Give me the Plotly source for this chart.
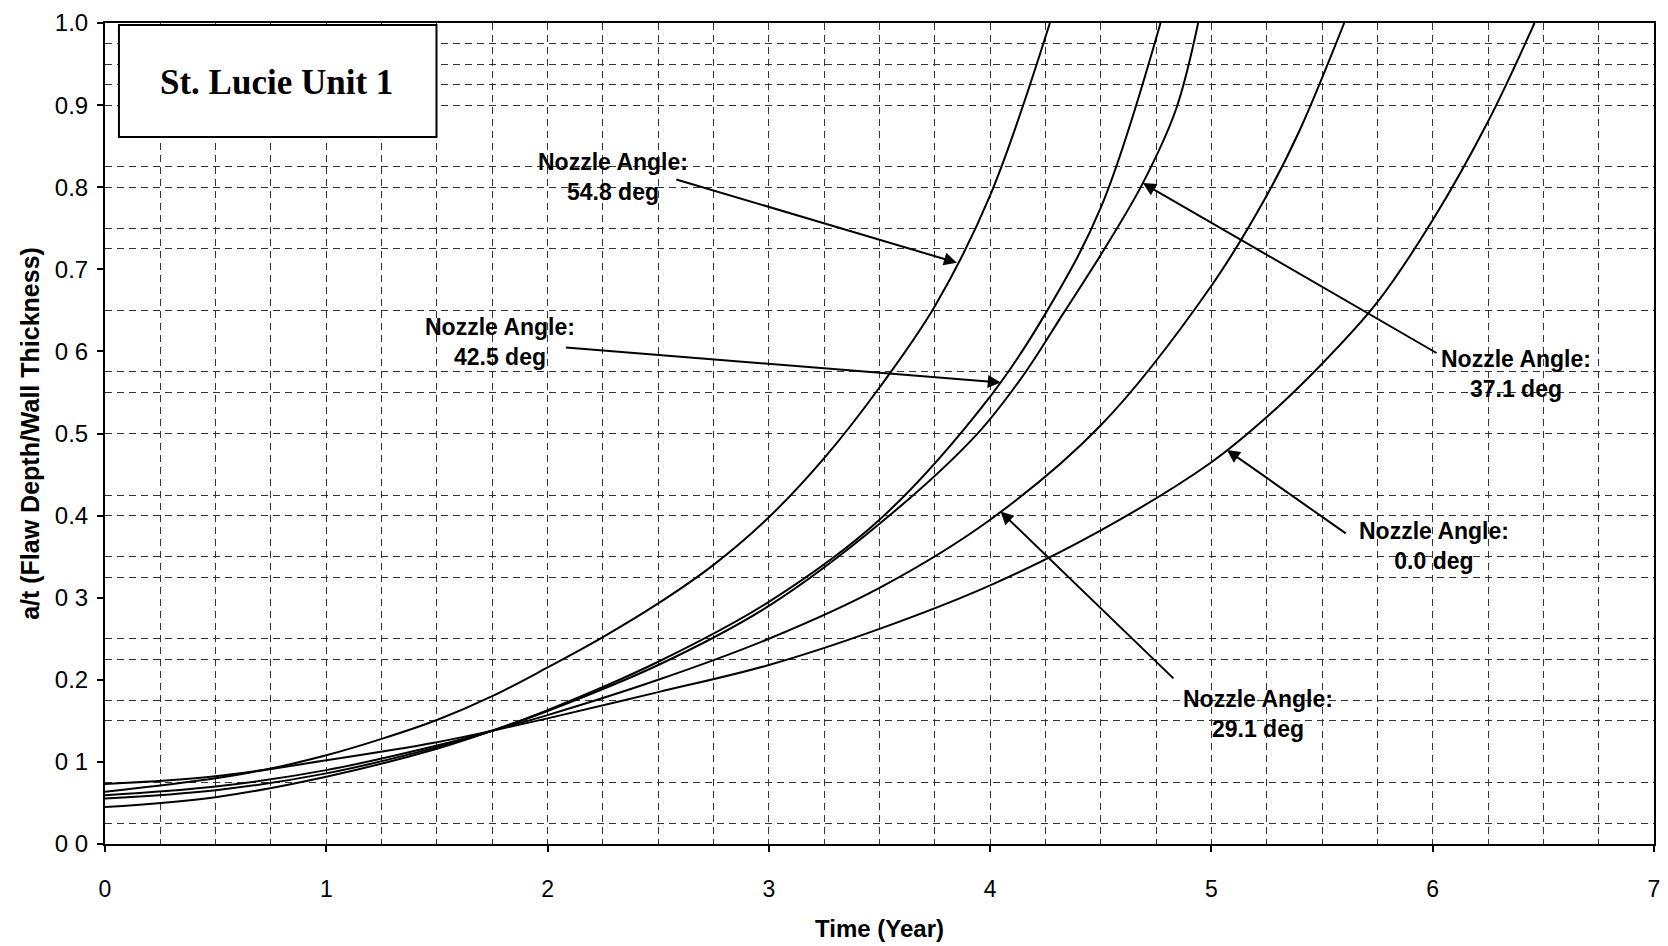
import plotly.graph_objects as go

# ---------------- data ----------------
t_00 = [0.0, 0.5, 1.0, 1.5, 1.75, 2.0, 2.5, 3.0, 3.5, 4.0, 4.5, 5.0, 5.25, 5.5, 5.75, 6.0, 6.25, 6.46]
a_00 = [0.073, 0.0825, 0.102, 0.124, 0.138, 0.153, 0.185, 0.218, 0.262, 0.315, 0.382, 0.465, 0.520, 0.585, 0.660, 0.760, 0.880, 1.0]

t_291 = [0.0, 0.5, 1.0, 1.5, 1.75, 2.0, 2.5, 3.0, 3.5, 4.0, 4.5, 5.0, 5.25, 5.4, 5.6]
a_291 = [0.0595, 0.070, 0.090, 0.120, 0.138, 0.157, 0.200, 0.250, 0.312, 0.395, 0.510, 0.680, 0.790, 0.870, 1.0]

t_371 = [0.0, 0.5, 1.0, 1.5, 1.75, 2.0, 2.5, 3.0, 3.5, 3.94, 4.15, 4.33, 4.51, 4.69, 4.84, 4.94]
a_371 = [0.0555, 0.0655, 0.086, 0.118, 0.138, 0.162, 0.218, 0.290, 0.390, 0.499, 0.571, 0.646, 0.722, 0.805, 0.895, 1.0]

t_425 = [0.0, 0.5, 1.0, 1.5, 1.75, 2.0, 2.5, 3.0, 3.5, 4.0, 4.25, 4.5, 4.77]
a_425 = [0.045, 0.057, 0.082, 0.116, 0.138, 0.163, 0.222, 0.295, 0.395, 0.545, 0.646, 0.775, 1.0]

t_548 = [0.0, 0.5, 0.75, 1.0, 1.25, 1.5, 1.75, 2.0, 2.25, 2.5, 2.75, 3.0, 3.25, 3.5, 3.75, 4.0, 4.27]
a_548 = [0.0635, 0.080, 0.092, 0.108, 0.128, 0.151, 0.180, 0.215, 0.252, 0.293, 0.340, 0.398, 0.470, 0.556, 0.655, 0.790, 1.0]

series = [
    ("0.0 deg", t_00, a_00),
    ("29.1 deg", t_291, a_291),
    ("37.1 deg", t_371, a_371),
    ("42.5 deg", t_425, a_425),
    ("54.8 deg", t_548, a_548),
]

x_tickvals = [0, 1, 2, 3, 4, 5, 6, 7]
x_ticktext = ["0", "1", "2", "3", "4", "5", "6", "7"]
y_tickvals = [0.0, 0.1, 0.2, 0.3, 0.4, 0.5, 0.6, 0.7, 0.8, 0.9, 1.0]
y_ticktext = ["0 0", "0 1", "0.2", "0 3", "0.4", "0.5", "0 6", "0.7", "0.8", "0.9", "1.0"]

# horizontal dashed grid positions seen on the scan
h_grid = [0.025, 0.075, 0.15, 0.175, 0.225, 0.25, 0.325, 0.35, 0.4, 0.425, 0.5,
          0.55, 0.575, 0.65, 0.725, 0.75, 0.8, 0.825, 0.9, 0.925, 0.95, 0.975]
# vertical dashed grid positions (every quarter year)
v_grid = [0.25, 0.5, 0.75, 1.0, 1.25, 1.5, 1.75, 2.0, 2.25, 2.5, 2.75, 3.0, 3.25,
          3.5, 3.75, 4.0, 4.25, 4.5, 4.75, 5.0, 5.25, 5.5, 5.75, 6.0, 6.25, 6.5, 6.75]

# annotations: (label, text position, arrow tail, arrow head) in data units
labels = [
    ("Nozzle Angle:<br>54.8 deg", (2.296, 0.813), (2.575, 0.810), (3.85, 0.708)),
    ("Nozzle Angle:<br>42.5 deg", (1.783, 0.611), (2.076, 0.605), (4.048, 0.562)),
    ("Nozzle Angle:<br>37.1 deg", (6.375, 0.573), (6.024, 0.597), (4.69, 0.805)),
    ("Nozzle Angle:<br>0.0 deg", (6.006, 0.363), (5.614, 0.377), (5.07, 0.480)),
    ("Nozzle Angle:<br>29.1 deg", (5.21, 0.158), (4.835, 0.200), (4.047, 0.405)),
]

title_text = "St. Lucie Unit 1"

# ---------------- figure ----------------
FONT = "Liberation Sans, Arial, Helvetica, sans-serif"
SERIF = "Liberation Serif, Times New Roman, serif"
GRID = "#333333"
DASH = "7px,5px"

fig = go.Figure()
for name, tx, ay in series:
    fig.add_trace(go.Scatter(
        x=tx, y=ay, mode="lines", name=name,
        line=dict(color="black", width=2, shape="spline", smoothing=1.0),
        showlegend=False, hoverinfo="skip",
    ))

for text, (tx, ty), (ax, ay), (hx, hy) in labels:
    fig.add_annotation(x=tx, y=ty, xref="x", yref="y", text="<b>" + text + "</b>",
                       showarrow=False, align="center", xanchor="center", yanchor="middle",
                       font=dict(family=FONT, size=23, color="black"))
    fig.add_annotation(x=hx, y=hy, xref="x", yref="y", ax=ax, ay=ay,
                       axref="x", ayref="y", text="", showarrow=True,
                       arrowhead=2, arrowsize=1.3, arrowwidth=2, arrowcolor="black",
                       standoff=0, startstandoff=0)

# framed title box
fig.add_shape(type="rect", xref="paper", yref="paper", x0=0.009, x1=0.214,
              y0=0.861, y1=0.9976, line=dict(color="black", width=2),
              fillcolor="white", layer="above")
fig.add_annotation(x=0.111, y=0.928, xref="paper", yref="paper",
                   xanchor="center", yanchor="middle",
                   text="<b>" + title_text + "</b>", showarrow=False,
                   font=dict(family=SERIF, size=35, color="black"))

fig.update_layout(
    width=1668, height=946,
    margin=dict(l=105, r=8, t=23, b=101),
    paper_bgcolor="white", plot_bgcolor="white",
    font=dict(family=FONT, color="black"),
)

fig.update_xaxes(
    range=[0, 7], tickmode="array", tickvals=x_tickvals, ticktext=x_ticktext,
    ticks="outside", ticklen=6, tickwidth=1.5, tickcolor="black",
    tickfont=dict(family=FONT, size=23, color="black"), ticklabelstandoff=17,
    showline=True, linewidth=2, linecolor="black", mirror=True,
    showgrid=True, gridcolor=GRID, gridwidth=1, griddash=DASH,
    zeroline=False,
    minor=dict(tickmode="array", tickvals=v_grid, ticks="inside", ticklen=0,
               showgrid=True, gridcolor=GRID, gridwidth=1, griddash=DASH),
    title=dict(text="<b>Time (Year)</b>", standoff=20,
               font=dict(family=FONT, size=24, color="black")),
)

fig.update_yaxes(
    range=[0, 1], tickmode="array", tickvals=y_tickvals, ticktext=y_ticktext,
    ticks="outside", ticklen=6, tickwidth=1.5, tickcolor="black",
    tickfont=dict(family=FONT, size=24, color="black"), ticklabelstandoff=4,
    showline=True, linewidth=2, linecolor="black", mirror=True,
    showgrid=False, zeroline=False,
    minor=dict(tickmode="array", tickvals=h_grid, ticks="inside", ticklen=0,
               showgrid=True, gridcolor=GRID, gridwidth=1, griddash=DASH),
    title=dict(text="<b>a/t (Flaw Depth/Wall Thickness)</b>", standoff=8,
               font=dict(family=FONT, size=25, color="black")),
)

fig.write_html("out.html", config={"displayModeBar": False},
               post_script="document.body.style.margin='0';")
